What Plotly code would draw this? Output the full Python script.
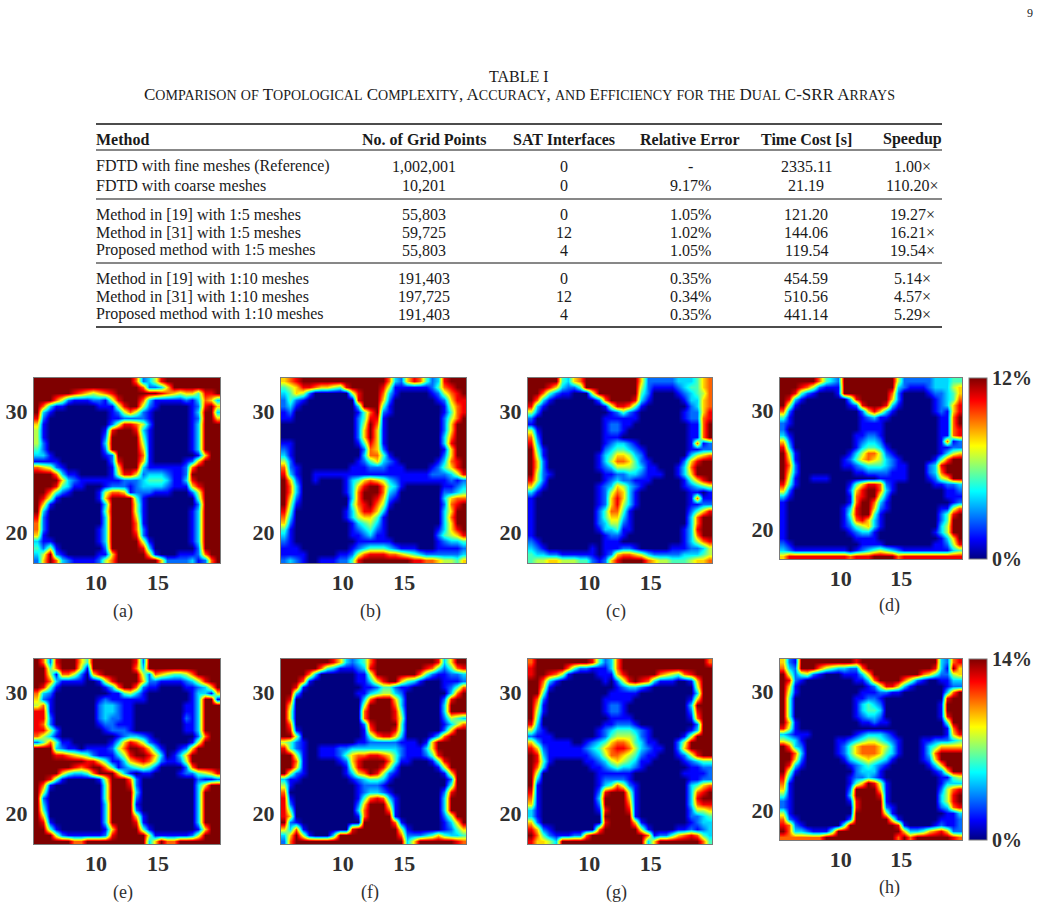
import plotly.graph_objects as go

# ---- table contents ----
table_title = "TABLE I"
table_caption = "Comparison of Topological Complexity, Accuracy, and Efficiency for the Dual C-SRR Arrays"
col_heads = ["Method", "No. of Grid Points", "SAT Interfaces", "Relative Error", "Time Cost [s]", "Speedup"]
methods = ["FDTD with fine meshes (Reference)", "FDTD with coarse meshes",
           "Method in [19] with 1:5 meshes", "Method in [31] with 1:5 meshes", "Proposed method with 1:5 meshes",
           "Method in [19] with 1:10 meshes", "Method in [31] with 1:10 meshes", "Proposed method with 1:10 meshes"]
grid_points = ["1,002,001", "10,201", "55,803", "59,725", "55,803", "191,403", "197,725", "191,403"]
sat_interfaces = ["0", "0", "0", "12", "4", "0", "12", "4"]
relative_error = ["-", "9.17%", "1.05%", "1.02%", "1.05%", "0.35%", "0.34%", "0.35%"]
time_cost = ["2335.11", "21.19", "121.20", "144.06", "119.54", "454.59", "510.56", "441.14"]
speedup = ["1.00×", "110.20×", "19.27×", "16.21×", "19.54×", "5.14×", "4.57×", "5.29×"]

# ---- field error maps: levels 0-9 on a 30x30 grid, top row first; 9 means the colour limit ----
panel_a = [
"99999 99999 99999 97235 89999 99999","99999 99999 99999 99722 36999 99999","99999 98765 67899 99999 87656 64889",
"99975 21112 21589 99731 11112 13763","97311 00000 11158 99521 00000 12896","93100 00000 00125 75210 00000 13993",
"82000 00000 00112 22210 00000 12996","61000 00000 00258 87520 00000 13999","51000 00000 01899 98310 00000 13999",
"51000 00000 02999 99410 00000 13999","52000 00000 03999 99510 00000 13999","42000 00000 02999 99610 00000 13999",
"33100 00000 01299 99710 00000 01699","11110 00000 00289 99610 00001 26999","76521 00000 00169 99311 11112 79999",
"99973 11000 00158 86233 32112 99999","99996 32111 11112 22344 43113 89999","99984 31100 01222 12333 32111 68999",
"99742 10000 15776 12221 11000 25999","98510 00000 16999 94100 00000 04999","96100 00000 03999 95100 00000 02999",
"93000 00000 04999 95100 00000 13999","82000 00000 03999 96100 00000 13999","72000 00000 03999 97100 00000 13999",
"72000 00000 13999 97200 00000 13999","61000 00000 13999 98200 00000 13999","31100 00000 13999 99510 00000 13999",
"42510 00000 02999 99830 00000 02999","35921 00000 11699 99961 00011 12799","26973 21111 25799 99999 62222 31279"]
panel_b = [
"67899 99999 99999 99732 68742 38999","45688 76654 89999 98511 11112 47899","34652 00000 05899 97310 00001 25789",
"24210 00000 00899 96200 00000 12688","23100 00000 00399 94100 00000 01578","12000 00000 00147 92100 00000 01478",
"11000 00000 00248 81000 00000 02579","00000 00000 00259 71000 00000 02699","00000 00000 00269 61000 00000 02699",
"00000 00000 00269 61000 00000 03799","11000 00000 00148 61000 00000 03899","21000 00000 00027 62000 00000 01699",
"31000 00000 00037 74100 00000 02699","52000 00000 00124 63210 00000 13789","72100 00000 01112 22111 00001 24689",
"83100 11111 11111 11111 11112 22358","96200 10000 13467 65321 11111 11212","97300 00000 13689 97431 00000 01123",
"97300 00000 13799 97320 00000 02234","96200 00000 03799 86210 00000 03677","95100 00000 04789 75100 00000 02789",
"84000 00000 13688 63000 00000 03699","73000 00000 13566 41000 00000 03799","62000 00000 01345 31000 00000 03699",
"41000 00000 01234 21000 00000 13689","31000 00000 01123 11000 00000 24568","21000 00000 00111 11100 00000 12334",
"11100 00000 01234 44321 11000 11112","11110 00001 12578 88776 54322 22223","23210 01112 24899 99999 98877 65546"]
panel_c = [
"99999 43679 99999 99962 22223 33467","99986 32249 99999 99952 11112 34467","99742 11000 59999 99942 00001 23457",
"97310 00000 02799 99831 00000 13367","83100 00000 00158 87410 00000 02367","52000 00000 00012 42100 00000 12268",
"20000 00000 00111 11100 00000 12278","10000 00000 00122 11000 00000 01179","51000 00000 00122 10000 00000 01179",
"72000 00000 00111 00000 00000 01179","83000 00000 00123 32100 00000 01712","94100 00000 00234 43210 00000 01122",
"95100 00000 01346 65320 00000 03567","96200 00000 01357 76421 00000 26899","96200 00000 01235 55431 10001 37999",
"95210 00000 00112 23321 11001 36999","85200 00000 00123 22111 00000 14689","63100 00000 01236 53210 00000 12345",
"31000 00000 01257 63100 00000 01101","10000 00000 01268 63100 00000 01711","10000 00000 01268 53100 00000 01122",
"10000 00000 02477 41000 00000 02468","10000 00000 02466 31000 00000 03799","10000 00000 02355 21000 00000 03799",
"10000 00000 01334 11000 00000 13899","10000 00000 00122 10000 00000 13799","21000 00000 00111 00000 00000 13578",
"32100 00000 10111 22100 00011 12235","43322 11111 10126 77653 22222 33345","45566 55544 21268 99997 65544 45667"]
panel_d = [
"99999 97432 99999 99995 22222 33344","99987 52111 99999 99993 21112 33356","99842 10001 99999 99972 00001 22346",
"98310 00000 03899 99962 00000 12347","95100 00000 01289 99831 00000 12368","72000 00000 00026 86310 00000 12168",
"41000 00000 00012 31100 00000 01179","21000 00000 00011 11000 00000 01179","20000 00000 00011 11000 00000 01178",
"31000 00000 00112 21000 00000 01178","62000 00000 00123 32000 00000 01712","83000 00000 00134 43100 00000 01122",
"95100 00000 01357 75210 00000 01356","96100 00000 12467 65321 00000 14799","97200 00000 11234 44321 10002 38999",
"96200 00000 00112 22211 10002 37999","95100 11100 00000 01111 10001 25699","84100 00000 01468 87210 00000 11223",
"62000 00000 02689 97310 00000 00112","31000 00000 01789 95200 00000 00111","10000 00000 01799 73100 00000 00012",
"10000 00000 13899 62100 00000 01157","10000 00000 14899 41000 00000 02489","10000 00000 13786 31000 00000 02499",
"10000 00000 12456 31000 00000 03599","10000 00000 01233 10000 00000 13599","10000 00000 00111 10000 00000 01369",
"21000 00000 00011 11000 00000 11258","32111 11111 10123 45432 11111 11134","68888 88888 87888 99997 88888 88888"]
panel_e = [
"97289 99649 99999 98299 99999 99999","99479 99519 99999 97399 99999 99999","99517 75206 89999 99527 65445 79999",
"99731 11100 15899 99622 11112 35899","98410 00000 01379 97211 00001 12369","73200 00000 00114 53100 00000 13316",
"62100 00000 12111 11100 00000 13991","57100 00000 23321 10000 00001 13999","88100 00000 23321 10000 00001 13999",
"88200 00000 23221 10000 00002 13999","87200 00000 12211 10000 00001 13999","88520 00000 01222 10000 00001 13999",
"75310 00000 00012 33210 00000 02799","24741 10000 00136 87521 00000 15999","99932 11011 11257 99863 10012 69999",
"99988 76542 11135 89986 30136 99999","99999 99988 64113 67875 21125 99999","99999 98789 97412 34542 00002 79999",
"99996 43347 99963 10110 00012 24568","99841 00000 15999 72000 00000 02112","97100 00000 04999 82000 00000 03699",
"95000 00000 04999 93000 00000 03999","92000 00000 04999 92000 00000 03999","93000 00000 03999 91000 00000 03999",
"94000 00000 03999 92000 00000 03999","96000 00000 03999 96100 00000 03999","98100 00000 03999 98100 00000 03999",
"99410 00000 01699 99410 00000 01699","99952 11111 12899 99951 11111 25999","99999 97799 99999 99936 97799 99999"]
panel_f = [
"99999 99986 32347 99999 99999 83699","99999 97431 11238 99999 99987 42478","99997 30000 00115 99999 99742 11223",
"99971 00000 00113 68996 43100 01112","99810 00000 00011 24421 10000 01247","99300 00000 00113 45532 00000 00379",
"98000 00000 00037 99963 00000 02899","96000 00000 00059 99973 00000 03999","95000 00000 00079 99984 00000 03999",
"95000 00000 00079 99985 00000 02543","97000 00000 00028 99994 00000 01357","98100 00000 00017 99984 00000 02699",
"99500 00000 00014 78863 00001 37999","54210 00000 00112 22221 11016 99999","84210 01112 23333 33332 11136 99999",
"99510 01112 46778 87642 11124 89999","99710 00001 26899 99741 10001 48999","99610 00000 15899 98520 00000 15999",
"95210 00000 13679 85210 00000 01699","31100 00000 01234 43100 00000 00299","51000 00000 00122 21000 00000 00499",
"70000 00000 00123 32100 00000 02899","81000 00000 00147 87310 00000 03999","82000 00000 00269 99510 00000 03999",
"84000 00000 00379 99710 00000 03999","86000 00000 00179 99910 00000 02599","92100 00000 00099 99971 00000 01369",
"63710 00000 08999 99995 10000 01246","36951 00039 99999 99997 22234 64334","27999 99999 99999 99999 36999 99987"]
panel_g = [
"79999 99999 84237 99999 99999 99997","89999 97422 11137 99999 99999 99999","89987 51000 01116 89999 97654 78999",
"99731 00000 00102 58987 31110 01699","99610 00000 00001 23321 00000 00599","99400 00000 00011 11100 00000 00399",
"97200 00000 00111 11000 00000 01699","96100 00000 00122 10000 00000 03999","95100 00000 00122 10000 00000 02899",
"94000 00000 00011 11000 00000 01799","83000 00000 00112 22100 00000 00299","52100 00000 01234 44321 00000 01399",
"21110 00000 01245 55421 00000 15999","63111 11001 23467 76431 10002 59999","86211 11112 34678 87532 11002 69999",
"98311 11111 23577 65421 10001 25899","98410 00001 12356 54311 00000 12344","97300 00000 11234 33210 00000 01122",
"95000 00000 01111 11000 00000 11112","93000 00000 01222 21000 00000 01122","91000 00000 01347 52100 00000 03467",
"81000 00000 02899 95100 00000 03789","71000 00000 03999 96100 00000 03899","61000 00000 02999 97100 00000 03788",
"31000 00000 01899 98100 00000 02556","31000 00000 00999 99100 00000 02234","62000 00000 00899 99610 00000 01233",
"86210 00000 07999 99951 00001 12123","97421 11227 99999 99997 12246 78743","86653 99999 99999 99993 69999 99974"]
panel_h = [
"62199 99999 99899 99999 99999 93278","73299 97543 32279 99999 99999 83196","95245 21000 11136 99999 99976 42256",
"98210 00000 00113 79999 75210 01133","96100 00000 00001 25886 31000 00122","95100 00000 00011 12211 00000 00379",
"94000 00000 00112 21000 00000 00899","94000 00000 00134 32000 00000 01999","94000 00000 00134 43000 00000 01999",
"94000 00000 00123 32000 00000 01899","96100 00000 00011 21100 00000 00499","85100 00000 00000 00000 00000 00179",
"32111 00000 00123 33210 00000 00168","54310 00001 12345 54321 00011 22234","97320 00001 24677 76531 00013 46666",
"99730 00001 24677 76431 00013 79999","99620 00000 13456 54310 00012 69999","98310 00000 01234 32100 00001 36999",
"95100 00000 00233 31000 00000 12699","83000 00000 01223 21000 00000 01145","71000 00000 01469 85100 00000 01333",
"61000 00000 02999 96100 00000 02578","41000 00000 03999 98100 00000 03589","21000 00000 01899 99100 00000 03589",
"21000 00000 00899 99210 00000 02378","51000 00000 00999 99510 00000 00113","72100 00000 02999 99951 00000 01112",
"87210 00000 49999 99998 10000 12112","97332 11149 99999 99999 63346 78622","77777 77999 99999 99997 97999 99987"]

panel_names = ["(a)", "(b)", "(c)", "(d)", "(e)", "(f)", "(g)", "(h)"]
panel_levels = [panel_a, panel_b, panel_c, panel_d, panel_e, panel_f, panel_g, panel_h]
panel_limits = [12, 12, 12, 12, 14, 14, 14, 14]
x_ticks = [10, 15]
y_ticks = [20, 30]

# ---- page layout in pixels ----
W, H = 1039, 909
SERIF = "Liberation Serif"
INK = "#1a1a1a"
LABEL = "#303030"
FRAME = "#7a7a7a"
panel_boxes = [(34, 220, 378, 563), (281, 466, 378, 563), (528, 712, 378, 563), (780, 962, 378, 559),
               (34, 220, 659, 844), (281, 466, 659, 844), (528, 712, 659, 844), (780, 962, 659, 840)]
caption_xy = [(123, 611), (370, 611), (616, 611), (889, 605), (123, 892), (370, 892), (616, 892), (889, 887)]
colorbars = {3: (968.7, 378, 181), 7: (968.7, 659, 181)}
jet = [[0, "#00007f"], [0.11, "#0000ff"], [0.375, "#00ffff"], [0.625, "#ffff00"], [0.875, "#ff0000"], [1, "#7f0000"]]


def fx(px):
    return px / W


def fy(py):
    return 1 - py / H


def text(s, px, py, size, anchor="center", **font):
    return dict(text=s, x=fx(px), y=fy(py), xref="paper", yref="paper", showarrow=False,
                xanchor=anchor, yanchor="middle", align=anchor, borderpad=0, borderwidth=0,
                font=dict(family=SERIF, size=size, color=font.pop("color", INK), **font))


def small_caps(s, small_size):
    # capitals keep the annotation size, lower-case letters become smaller capitals
    out, run = [], ""
    for ch in s:
        if ch.islower():
            run += ch.upper()
        else:
            if run:
                out.append(f'<span style="font-size:{small_size}px">{run}</span>')
                run = ""
            out.append(ch)
    if run:
        out.append(f'<span style="font-size:{small_size}px">{run}</span>')
    return "".join(out)


def levels_to_z(rows, limit):
    # rows run top to bottom on the page, the y axis runs upward
    return [[int(c) / 9 * limit for c in row if c != " "] for row in reversed(rows)]


X_RANGE = [5.0, 20.0]
Y_RANGE = [17.5, 32.7]
N = 30
xs = [X_RANGE[0] + (X_RANGE[1] - X_RANGE[0]) * (i + 0.5) / N for i in range(N)]
ys = [Y_RANGE[0] + (Y_RANGE[1] - Y_RANGE[0]) * (i + 0.5) / N for i in range(N)]

fig = go.Figure()
layout = dict(width=W, height=H, margin=dict(l=0, r=0, t=0, b=0), paper_bgcolor="white",
              plot_bgcolor="#00007f", showlegend=False)

for i, (rows, limit, box) in enumerate(zip(panel_levels, panel_limits, panel_boxes)):
    sfx = "" if i == 0 else str(i + 1)
    trace = dict(z=levels_to_z(rows, limit), x=xs, y=ys, zmin=0, zmax=limit, zsmooth="best",
                 colorscale=jet, showscale=False, hoverinfo="skip",
                 xaxis="x" + sfx, yaxis="y" + sfx)
    if i in colorbars:
        cx, ctop, clen = colorbars[i]
        trace.update(showscale=True, colorbar=dict(
            x=fx(cx), xanchor="left", y=fy(ctop + clen), yanchor="bottom", thickness=18, thicknessmode="pixels",
            len=clen, lenmode="pixels", xpad=0, ypad=0, outlinewidth=1, outlinecolor=FRAME,
            tickmode="array", tickvals=[0, limit], ticktext=["0%", f"{limit}%"], ticks="",
            tickfont=dict(family=SERIF, size=20, color=LABEL, weight=700)))
    fig.add_trace(go.Heatmap(**trace))
    x0, x1, y0, y1 = box
    axis_common = dict(showgrid=False, zeroline=False, showline=True, mirror=True, linecolor=FRAME, linewidth=1,
                       tickmode="array", ticks="outside", tickcolor="rgba(0,0,0,0)",
                       tickfont=dict(family=SERIF, size=22, color=LABEL, weight=700))
    layout["xaxis" + sfx] = dict(domain=[fx(x0), fx(x1)], range=X_RANGE, tickvals=x_ticks, ticklen=0,
                                 anchor="y" + sfx, **axis_common)
    layout["yaxis" + sfx] = dict(domain=[fy(y1), fy(y0)], range=Y_RANGE, tickvals=y_ticks, ticklen=1,
                                 anchor="x" + sfx, **axis_common)

# ---- table text and rules ----
notes = [text("9", 1030, 13, 12),
         text(table_title, 519, 77, 16),
         text(small_caps(table_caption, 14), 519, 95, 17)]
col_x = [96, 424, 564, 690, 806, 912]
head_y = 139
row_y = [166, 185, 214, 232, 250, 278, 296, 314]
for j, head in enumerate(col_heads):
    notes.append(text(head, col_x[j], head_y, 16, "left" if j == 0 else "center", weight=700))
columns = [methods, grid_points, sat_interfaces, relative_error, time_cost, speedup]
for j, col in enumerate(columns):
    for value, y in zip(col, row_y):
        notes.append(text(value, col_x[j], y, 16, "left" if j == 0 else "center"))
for name, (cap_x, cap_y) in zip(panel_names, caption_xy):
    notes.append(text(name, cap_x, cap_y, 18, color=LABEL))

rules = [(124, 1.6), (150, 1), (199, 1), (263, 1), (327, 1.6)]
layout["shapes"] = [dict(type="line", xref="paper", yref="paper", x0=fx(96), x1=fx(942), y0=fy(y), y1=fy(y),
                         line=dict(color="#111111", width=w)) for y, w in rules]
layout["annotations"] = notes
fig.update_layout(**layout)
fig.write_html("out.html")
